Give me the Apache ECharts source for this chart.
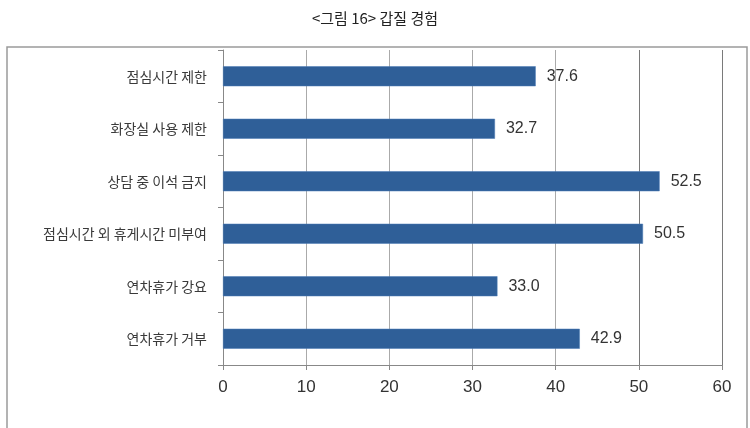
<!DOCTYPE html>
<html>
<head>
<meta charset="utf-8">
<script src="https://cdn.jsdelivr.net/npm/echarts@6/dist/echarts.min.js"></script>
<style>
  html, body { margin: 0; padding: 0; background: #fff; }
  #chart { width: 750px; height: 428px; }
</style>
</head>
<body>
<div id="chart"></div>
<script>
// data
const categories = ['점심시간 제한', '화장실 사용 제한', '상담 중 이석 금지', '점심시간 외 휴게시간 미부여', '연차휴가 강요', '연차휴가 거부'];
const values = [37.6, 32.7, 52.5, 50.5, 33.0, 42.9];
const xTicks = [0, 10, 20, 30, 40, 50, 60];

const chart = echarts.init(document.getElementById('chart'));
chart.setOption({
  animation: false,
  backgroundColor: '#fff',
  title: {
    text: '<그림 16> 갑질 경험',
    left: 'center',
    top: 6,
    textStyle: {
      fontFamily: 'Noto Sans CJK KR',
      fontSize: 15,
      fontWeight: 'normal',
      color: '#222'
    }
  },
  graphic: [{
    type: 'rect',
    shape: { x: 7, y: 47, width: 740, height: 390 },
    style: { fill: 'none', stroke: '#9a9a9a', lineWidth: 1.5 },
    silent: true
  }],
  grid: { left: 223, right: 28, top: 50, bottom: 63 },
  xAxis: {
    type: 'value',
    min: xTicks[0],
    max: xTicks[xTicks.length - 1],
    interval: 10,
    axisLine: { show: true, lineStyle: { color: '#888' } },
    axisTick: { show: true, length: 5, lineStyle: { color: '#888' } },
    axisLabel: {
      fontFamily: 'Liberation Sans',
      fontSize: 17,
      color: '#333',
      margin: 14
    },
    splitLine: {
      show: true,
      lineStyle: { color: ['#aaa', '#aaa', '#aaa', '#aaa', '#aaa', '#7a7a7a', '#7a7a7a'], width: 1 }
    }
  },
  yAxis: {
    type: 'category',
    inverse: true,
    data: categories,
    axisLine: { show: true, lineStyle: { color: '#888' } },
    axisTick: { show: true, length: 5, lineStyle: { color: '#888' } },
    axisLabel: {
      fontFamily: 'Noto Sans CJK KR',
      fontSize: 14,
      color: '#3a3a3a',
      margin: 16
    }
  },
  series: [{
    type: 'bar',
    data: values,
    barWidth: 20,
    itemStyle: { color: '#2f5f98', borderColor: '#4a7ab5', borderWidth: 0.5 },
    label: {
      show: true,
      position: 'right',
      distance: 11,
      formatter: p => p.value.toFixed(1),
      fontFamily: 'Liberation Sans',
      fontSize: 16,
      color: '#333'
    }
  }]
});
</script>
</body>
</html>
